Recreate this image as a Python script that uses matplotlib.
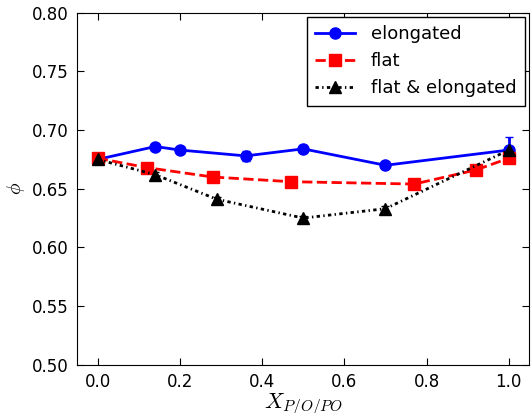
import matplotlib
matplotlib.use("Agg")
import matplotlib.pyplot as plt
from matplotlib.lines import Line2D

plt.rcParams['mathtext.fontset'] = 'cm'
plt.rcParams['font.family'] = 'DejaVu Sans'

x_elong = [0.0, 0.14, 0.2, 0.36, 0.5, 0.7, 1.0]
y_elong = [0.675, 0.686, 0.683, 0.678, 0.684, 0.670, 0.683]
e_elong = [0.002, 0.002, 0.002, 0.004, 0.003, 0.002, 0.011]

x_flat = [0.0, 0.12, 0.28, 0.47, 0.77, 0.92, 1.0]
y_flat = [0.676, 0.668, 0.660, 0.656, 0.654, 0.666, 0.676]
e_flat = [0.002, 0.002, 0.002, 0.002, 0.002, 0.002, 0.003]

x_fe = [0.0, 0.14, 0.29, 0.5, 0.7, 1.0]
y_fe = [0.675, 0.662, 0.641, 0.625, 0.633, 0.683]
e_fe = [0.002, 0.002, 0.002, 0.002, 0.002, 0.002]

fig = plt.figure(figsize=(5.32, 4.13), dpi=100)
ax = fig.add_axes([0.145, 0.117, 0.85, 0.852])

fe_ls = (0, (1.2, 1.2, 0.5, 1.2))

ax.errorbar(x_elong, y_elong, yerr=e_elong, color='blue', marker='o', ms=8, lw=2,
            ls='-', capsize=3, mec='blue')
ax.errorbar(x_flat, y_flat, yerr=e_flat, color='red', marker='s', ms=8, lw=2,
            ls='--', capsize=3, mec='red')
ax.errorbar(x_fe, y_fe, yerr=e_fe, color='black', marker='^', ms=8, lw=2,
            ls=fe_ls, capsize=3, mec='black')

ax.set_xlim(-0.05, 1.05)
ax.set_ylim(0.50, 0.80)
ax.set_xticks([0.0, 0.2, 0.4, 0.6, 0.8, 1.0])
ax.set_yticks([0.50, 0.55, 0.60, 0.65, 0.70, 0.75, 0.80])
ax.set_xticklabels(['0.0', '0.2', '0.4', '0.6', '0.8', '1.0'])
ax.set_yticklabels(['0.50', '0.55', '0.60', '0.65', '0.70', '0.75', '0.80'])
ax.tick_params(direction='in', top=True, right=True, labelsize=12, length=5, pad=6)
ax.set_xlabel(r'$X_{P/O/PO}$', fontsize=16, labelpad=0)
ax.set_ylabel(r'$\phi$', fontsize=14, labelpad=4)

handles = [
    Line2D([], [], color='blue', marker='o', ms=8, lw=2, ls='-', mec='blue'),
    Line2D([], [], color='red', marker='s', ms=8, lw=2, ls='--', mec='red'),
    Line2D([], [], color='black', marker='^', ms=8, lw=2, ls=fe_ls, mec='black'),
]
ax.legend(handles, ['elongated', 'flat', 'flat & elongated'], loc='upper right',
          numpoints=1, fontsize=13, fancybox=False, framealpha=1,
          edgecolor='black', handlelength=2.2, handletextpad=0.9,
          borderpad=0.45, labelspacing=0.5, borderaxespad=0.25)

fig.savefig('out.png', dpi=100)
